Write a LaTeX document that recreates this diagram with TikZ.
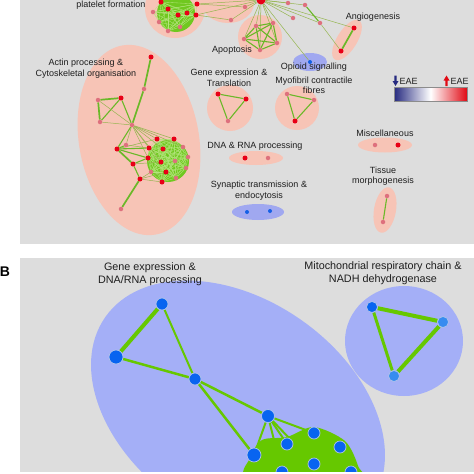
\documentclass[tikz,border=0pt]{standalone}
\usepackage{fontspec}
\setmainfont{Liberation Sans}
\definecolor{pg}{RGB}{221,221,221}
\definecolor{pk}{RGB}{247,196,182}
\definecolor{bA}{RGB}{160,168,240}
\definecolor{nred}{RGB}{232,0,22}
\definecolor{npink}{RGB}{222,112,125}
\definecolor{nblue}{RGB}{20,96,230}
\definecolor{olv}{RGB}{150,182,80}
\definecolor{gA}{RGB}{106,184,40}
\definecolor{gD}{RGB}{112,200,32}
\definecolor{gDl}{RGB}{180,228,125}
\definecolor{bB}{RGB}{164,175,247}
\definecolor{gB}{RGB}{102,200,0}
\definecolor{bnode}{RGB}{8,100,240}
\definecolor{bnodel}{RGB}{55,140,240}
\definecolor{bstroke}{RGB}{175,195,235}
\definecolor{navyA}{RGB}{38,42,128}
\definecolor{redA}{RGB}{225,10,20}
\definecolor{txt}{RGB}{30,30,30}
\pgfdeclarelayer{bg}
\pgfdeclarelayer{edges}
\pgfsetlayers{bg,edges,main}
\begin{document}
\begin{tikzpicture}[x=1pt,y=-1pt,
  lab/.style={font=\fontsize{9}{10.5}\selectfont, align=center, text=txt, inner sep=0},
  labB/.style={font=\fontsize{10.8}{13}\selectfont, align=center, text=txt, inner sep=0},
  rn/.style={circle, fill=nred, inner sep=0, minimum size=5pt},
  pn/.style={circle, fill=npink, inner sep=0, minimum size=4.5pt},
  bn/.style={circle, fill=nblue, inner sep=0, minimum size=4pt},
  Bn/.style={circle, fill=bnode, draw=bstroke, line width=0.7pt, inner sep=0, minimum size=12pt},
  e1/.style={draw=olv, line width=0.5pt},
  e2/.style={draw=gA, line width=1.1pt},
  e3/.style={draw=gA, line width=1.7pt},
  eD/.style={draw=gDl, line width=0.35pt},
  eB/.style={draw=gB, line width=#1},
]
\useasboundingbox (0,0) rectangle (474,474);

% ---------------- backgrounds and groups ----------------
\begin{pgfonlayer}{bg}
\fill[pg] (20,0) rectangle (474,244);
\fill[pg] (20,258) rectangle (474,472);
\fill[pk] (175,8) circle [radius=30pt];
\fill[pk] (228,3) ellipse [x radius=26pt, y radius=20pt];
\fill[pk] (260,37) circle [radius=22pt];
\fill[pk, rotate around={-32:(347,40)}] (347,40) ellipse [x radius=10pt, y radius=23pt];
\fill[bA] (310,62) ellipse [x radius=17pt, y radius=9pt];
\fill[pk] (230,108) circle [radius=23pt];
\fill[pk] (297,108) circle [radius=22pt];
\fill[pk, rotate around={10:(139,140)}] (139,140) ellipse [x radius=60pt, y radius=96pt];
\fill[pk] (256,158) ellipse [x radius=27pt, y radius=7pt];
\fill[bA] (258,212) ellipse [x radius=26pt, y radius=8pt];
\fill[pk] (385,145) ellipse [x radius=27pt, y radius=7.5pt];
\fill[pk, rotate around={-10:(385,210)}] (385,210) ellipse [x radius=11pt, y radius=23pt];
\fill[gD] (176,13) circle [radius=19pt];
\fill[gD] (168,161) circle [radius=21pt];
\fill[bB, rotate around={-35:(238,410)}] (238,410) ellipse [x radius=162pt, y radius=110pt];
\fill[bB] (404,341) ellipse [x radius=59pt, y radius=55pt];
\fill[gB] plot[smooth cycle] coordinates {(250,458) (262,440) (287,437) (314,427) (345,441) (358,466) (356,478) (250,478)};
\end{pgfonlayer}

% ---------------- panel A nodes ----------------
\node[rn] (P1) at (161,2) {};
\node[rn] (P2) at (168,9) {};
\node[rn] (P3) at (178,15) {};
\node[rn] (P4) at (187,13) {};
\node[rn] (P5) at (196,15) {};
\node[rn] (P6) at (197,4) {};
\node[pn] (P7) at (153,12) {};
\node[pn] (P8) at (159,22) {};
\node[pn] (P9) at (168,31) {};
\node[pn] (P10) at (180,27) {};
\node[pn] (Q1) at (231,20) {};
\node[pn] (Q2) at (245,7) {};
\node[rn, minimum size=9pt] (hub) at (261,0) {};
\node[pn] (R1) at (288,3) {};
\node[pn] (R2) at (305,5) {};
\node[pn] (R3) at (293,18) {};
\node[pn] (R4) at (320,23) {};
\node[pn] (AP1) at (256,26) {};
\node[pn] (AP2) at (273,23) {};
\node[pn] (AP3) at (244,39) {};
\node[pn] (AP4) at (277,43) {};
\node[pn] (AP5) at (260,50) {};
\node[rn] (AN1) at (354,28) {};
\node[rn] (AN2) at (341,51) {};
\node[bn] (OP) at (310,62) {};
\node[rn] (G1) at (218,94) {};
\node[rn] (G2) at (246,99) {};
\node[pn] (G3) at (228,121) {};
\node[pn] (M1) at (287,94) {};
\node[pn] (M2) at (314,100) {};
\node[rn] (M3) at (295,121) {};
\node[rn] (A1) at (151,57) {};
\node[pn] (A2) at (144,89) {};
\node[pn] (A3) at (98,100) {};
\node[rn] (A4) at (121,98) {};
\node[pn] (A5) at (100,122) {};
\node[pn] (A6) at (132,125) {};
\node[rn] (A7) at (117,149) {};
\node[pn] (A8) at (126,145) {};
\node[rn] (A9) at (133,164) {};
\node[rn] (A10) at (140,179) {};
\node[pn] (A11) at (121,209) {};
\node[rn] (C1) at (157,139) {};
\node[rn] (C2) at (174,139) {};
\node[rn] (C3) at (149,148) {};
\node[rn] (C4) at (163,149) {};
\node[rn] (C5) at (148,158) {};
\node[rn] (C6) at (161,162) {};
\node[rn] (C7) at (166,172) {};
\node[rn] (C8) at (162,182) {};
\node[pn] (C9) at (183,147) {};
\node[pn] (C10) at (188,157) {};
\node[pn] (C11) at (175,161) {};
\node[pn] (C12) at (186,168) {};
\node[pn] (C13) at (176,178) {};
\node[pn] (C14) at (151,172) {};
\node[rn] (D1) at (245,158) {};
\node[pn] (D2) at (268,158) {};
\node[bn] (S1) at (247,212) {};
\node[bn] (S2) at (270,211) {};
\node[pn] (X1) at (375,145) {};
\node[rn] (X2) at (398,145) {};
\node[pn] (T1) at (387,196) {};
\node[pn] (T2) at (383,222) {};

% ---------------- panel B nodes ----------------
\node[Bn] (B1) at (162,304) {};
\node[Bn, minimum size=14pt] (B2) at (116,357) {};
\node[Bn] (B3) at (195,379) {};
\node[Bn, minimum size=13pt] (B4) at (268,416) {};
\node[Bn, minimum size=14pt] (B5) at (254,455) {};
\node[Bn] (B6) at (287,444) {};
\node[Bn] (B7) at (314,433) {};
\node[Bn] (B8) at (340,447) {};
\node[Bn] (B9) at (314,464) {};
\node[Bn] (B10) at (282,472) {};
\node[Bn] (B11) at (351,472) {};
\node[Bn, minimum size=11pt] (MB1) at (372,307) {};
\node[Bn, fill=bnodel, minimum size=11pt] (MB2) at (443,322) {};
\node[Bn, fill=bnodel, minimum size=11pt] (MB3) at (394,376) {};

% ---------------- edges ----------------
\begin{pgfonlayer}{edges}
\foreach \i in {1,...,9}{\pgfmathtruncatemacro\k{\i+1}\foreach \j in {\k,...,10}{\draw[eD] (P\i) -- (P\j);}}
\foreach \i in {1,...,13}{\pgfmathtruncatemacro\k{\i+1}\foreach \j in {\k,...,14}{\draw[eD] (C\i) -- (C\j);}}
\foreach \n in {P5,P6,Q1,Q2,AP1,AP2,AP3,AP4,AP5,R1,R2,R3,R4,AN1,OP}{\draw[e1] (hub) -- (\n);}
\draw[e1] (P5) -- (Q1);
\draw[e1] (P6) -- (Q2);
\draw[e1] (R4) -- (AN2);
\draw[e2] (R2) -- (R4);
\draw[e3] (AN1) -- (AN2);
\foreach \a/\b in {AP1/AP2,AP1/AP3,AP1/AP4,AP1/AP5,AP2/AP3,AP2/AP4,AP2/AP5,AP3/AP4,AP3/AP5,AP4/AP5}{\draw[e2] (\a) -- (\b);}
\draw[e2] (G1) -- (G2); \draw[e2] (G2) -- (G3); \draw[e2] (G1) -- (G3);
\draw[e2] (M1) -- (M2); \draw[e2] (M2) -- (M3); \draw[e2] (M1) -- (M3);
\draw[e3] (A1) -- (A2); \draw[e3] (A2) -- (A6);
\draw[e3] (A3) -- (A4); \draw[e3] (A3) -- (A5); \draw[e2] (A4) -- (A5);
\draw[e1] (A3) -- (A6); \draw[e2] (A4) -- (A6); \draw[e1] (A5) -- (A6);
\draw[e2] (A6) -- (A7); \draw[e1] (A6) -- (A8);
\foreach \n in {C1,C2,C3,C4,C5,C6,C9}{\draw[e1] (A6) -- (\n);}
\draw[e3] (A7) -- (A9); \draw[e2] (A7) -- (C3); \draw[e2] (A7) -- (C5); \draw[e1] (A7) -- (C1);
\draw[e2] (A7) -- (A8); \draw[e1] (A8) -- (C3);
\draw[e2] (A9) -- (C5); \draw[e1] (A9) -- (C6); \draw[e2] (A9) -- (A10);
\draw[e1] (A10) -- (C8); \draw[e1] (A10) -- (C7); \draw[e1] (A10) -- (C14);
\draw[e3] (A10) -- (A11);
\draw[e2] (T1) -- (T2);
% panel B
\draw[eB=4pt] (B1) -- (B2);
\draw[eB=2pt] (B1) -- (B3);
\draw[eB=2.5pt] (B2) -- (B3);
\draw[eB=2.5pt] (B3) -- (B4);
\draw[eB=2.5pt] (B3) -- (B5);
\foreach \n in {B5,B6,B7,B9,B10}{\draw[eB=2pt] (B4) -- (\n);}
\foreach \i in {5,...,10}{\pgfmathtruncatemacro\k{\i+1}\foreach \j in {\k,...,11}{\draw[eB=2.5pt] (B\i) -- (B\j);}}
\draw[eB=4pt] (MB1) -- (MB2);
\draw[eB=4pt] (MB2) -- (MB3);
\draw[eB=3pt] (MB1) -- (MB3);
\end{pgfonlayer}

% ---------------- labels ----------------
\node[lab, anchor=base] (Lplat) at (111,7.5) {platelet formation};
\node[lab] (Lapo) at (232,50) {Apoptosis};
\node[lab] (Lang) at (373,17) {Angiogenesis};
\node[lab] (Lopi) at (314,67) {Opioid signalling};
\node[lab] (Lmyo) at (314,85.5) {Myofibril contractile\\fibres};
\node[lab] (Lgen) at (229,78) {Gene expression \&\\Translation};
\node[lab] (Lact) at (86,68.5) {Actin processing \&\\Cytoskeletal organisation};
\node[lab] (Ldna) at (255,146) {DNA \& RNA processing};
\node[lab] (Lsyn) at (259,190.5) {Synaptic transmission \&\\endocytosis};
\node[lab] (Lmis) at (385,133) {Miscellaneous};
\node[lab] (Ltis) at (383,176) {Tissue\\morphogenesis};

% legend
\fill[navyA] (394.3,75.5) -- (396.7,75.5) -- (396.7,81) -- (398.5,81) -- (395.5,86) -- (392.5,81) -- (394.3,81) -- cycle;
\fill[redA] (445.3,86) -- (447.7,86) -- (447.7,80.5) -- (449.5,80.5) -- (446.5,75.5) -- (443.5,80.5) -- (445.3,80.5) -- cycle;
\node[lab, anchor=west] (Ldown) at (399.5,81) {EAE};
\node[lab, anchor=west] (Lup) at (450.5,81) {EAE};
\shade[left color=navyA, right color=redA, middle color=white] (394,87) rectangle (467,101);
\draw[black!45, line width=0.6pt] (394,87) rectangle (467,101);

% panel B labels
\node[font=\fontsize{14}{16}\selectfont\bfseries, inner sep=0] (Blab) at (5,272) {B};
\node[labB] (LgeneB) at (150,274.5) {Gene expression \&\\DNA/RNA processing};
\node[labB] (Lmito) at (383,273) {Mitochondrial respiratory chain \&\\NADH dehydrogenase};

\fill[white] (0,472) rectangle (474,475);
\end{tikzpicture}
\end{document}
